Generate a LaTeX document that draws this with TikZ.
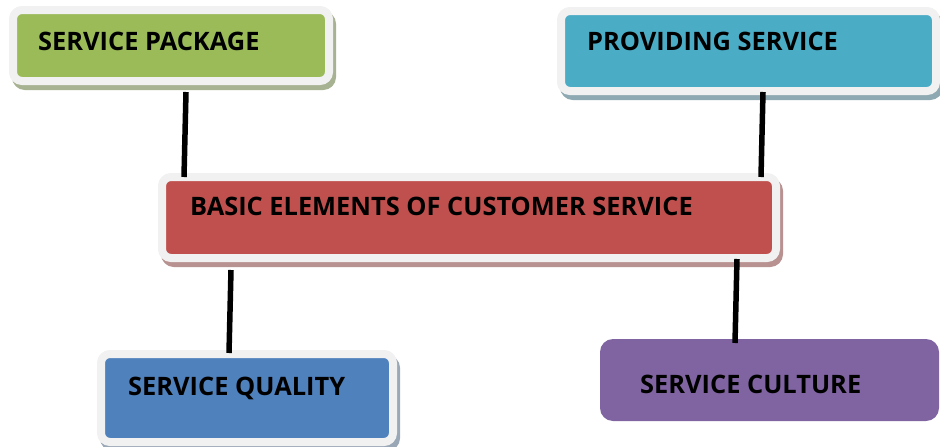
\documentclass[tikz,border=0pt]{standalone}
\usepackage{fontspec}
\setmainfont{Open Sans}
\usetikzlibrary{calc}
\definecolor{pkggreen}{HTML}{9BBB59}
\definecolor{pkgshade}{HTML}{A7B292}
\definecolor{provblue}{HTML}{4BACC6}
\definecolor{provshade}{HTML}{8FA9B2}
\definecolor{basered}{HTML}{C0504D}
\definecolor{baseshade}{HTML}{B89191}
\definecolor{qualblue}{HTML}{4F81BD}
\definecolor{qualshade}{HTML}{9AA7B7}
\definecolor{cultpurple}{HTML}{8064A2}
\definecolor{framegray}{HTML}{F1F1F1}
\tikzset{
  elembox/.style 2 args={rectangle, draw=framegray, line width=8pt, fill=#1,
    rounded corners=9pt, inner sep=0pt, outer sep=0pt,
    preaction={draw=#2, fill=#2, line width=8pt,
      transform canvas={xshift=3pt, yshift=-5pt}}},
  plainbox/.style={rectangle, fill=#1, rounded corners=13pt, inner sep=0pt, outer sep=0pt},
  elemtext/.style={inner sep=0pt, anchor=base west, font=\bfseries\fontsize{25.4}{30}\selectfont},
  link/.style={line width=5.5pt, black}
}
\begin{document}
\begin{tikzpicture}[x=1pt, y=-1pt]
			%%%%% START %%%%%
			\useasboundingbox (0, 0) rectangle (940, 447);
			
			\node[elembox={pkggreen}{pkgshade}, minimum width=316pt, minimum height=71pt] (pkg) at (171, 45.5) {};
			\node[elemtext] (pkgtxt) at ([shift={(25, 40)}]pkg.north west) {SERVICE PACKAGE};
			
			\node[elembox={provblue}{provshade}, minimum width=375pt, minimum height=80pt] (prov) at (748.5, 51) {};
			\node[elemtext] (provtxt) at ([shift={(26, 39)}]prov.north west) {PROVIDING SERVICE};
			
			\node[elembox={basered}{baseshade}, minimum width=614pt, minimum height=81pt] (base) at (469, 217.5) {};
			\node[elemtext] (basetxt) at ([shift={(28, 38)}]base.north west) {BASIC ELEMENTS OF CUSTOMER SERVICE};
			
			\node[elembox={qualblue}{qualshade}, minimum width=292pt, minimum height=88pt] (qual) at (247, 398) {};
			\node[elemtext] (qualtxt) at ([shift={(27, 41)}]qual.north west) {SERVICE QUALITY};
			
			\node[plainbox=cultpurple, minimum width=339pt, minimum height=82pt] (cult) at (769.5, 380) {};
			\node[elemtext] (culttxt) at ([shift={(40, 54)}]cult.north west) {SERVICE CULTURE};
			
			\draw[link] ([shift={(173, 11)}]pkg.south west) -- ([shift={(22, 0)}]base.north west);
			\draw[link] ([shift={(202, 1)}]prov.south west) -- ([shift={(-15, 0)}]base.north east);
			\draw[link] ([shift={(69, 12)}]base.south west) -- ([shift={(128, -1)}]qual.north west);
			\draw[link] ([shift={(-39, 1)}]base.south east) -- ([shift={(135, 4)}]cult.north west);
			
			%%%%% END %%%%%
\end{tikzpicture}
\end{document}
